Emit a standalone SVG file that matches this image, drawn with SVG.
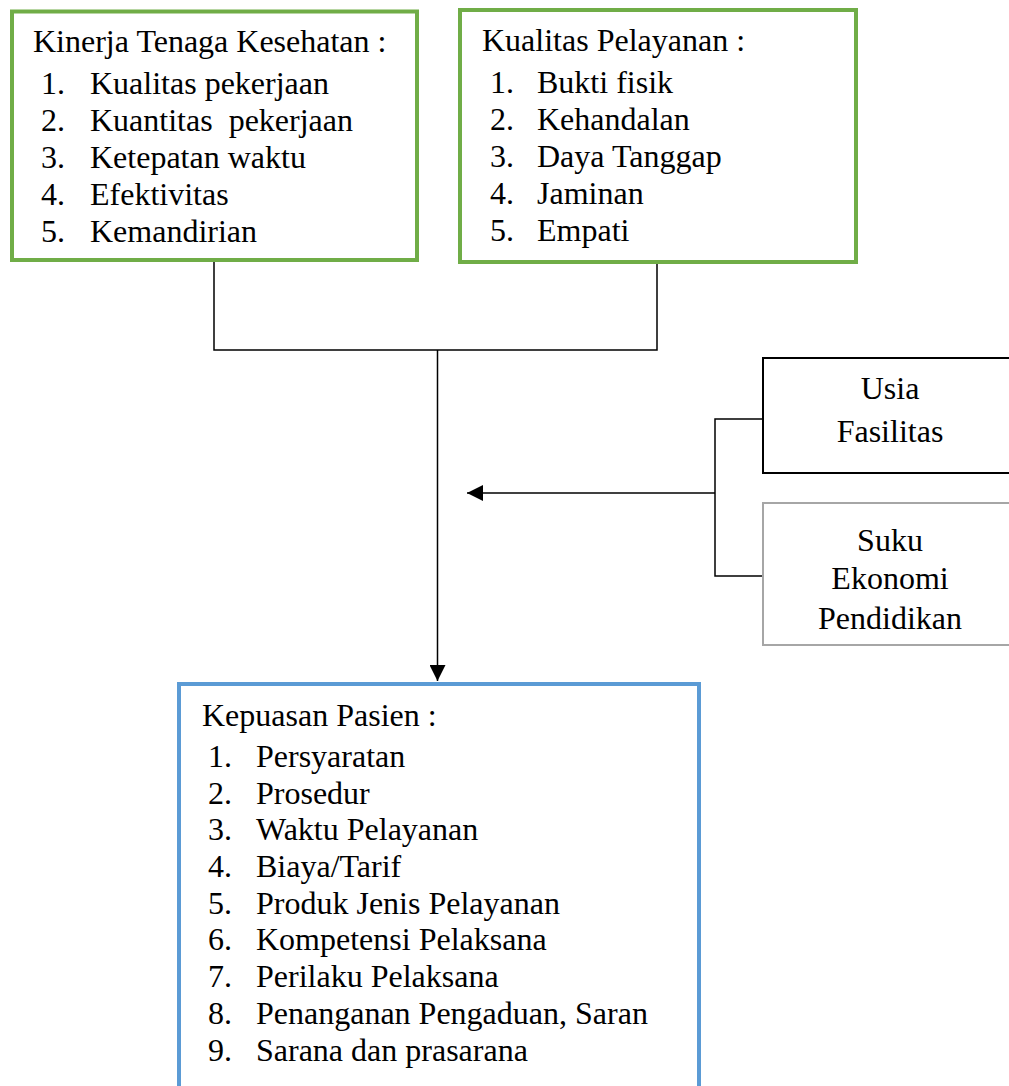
<svg xmlns="http://www.w3.org/2000/svg" width="1009" height="1086" viewBox="0 0 1009 1086">
<defs>
<style>
text{font-family:"Liberation Serif","Times New Roman",serif;font-size:32px;fill:#000}
.c{text-anchor:middle}
.green{fill:#fff;stroke:#70AD47;stroke-width:4}
.blue{fill:#fff;stroke:#5B9BD5;stroke-width:4}
.blk{fill:#fff;stroke:#000;stroke-width:2}
.gry{fill:#fff;stroke:#A6A6A6;stroke-width:2}
.ln{fill:none;stroke:#000;stroke-width:1.5}
</style>
<marker id="arr" markerWidth="16" markerHeight="16" refX="16" refY="8" orient="auto" markerUnits="userSpaceOnUse" viewBox="0 0 16 16">
<path d="M0,0 L16,8 L0,16 Z" fill="#000"/>
</marker>
</defs>
<g id="connectors">
<polyline class="ln" points="214,260 214,350 657,350 657,262"/>
<line class="ln" x1="437.5" y1="350" x2="437.5" y2="681" marker-end="url(#arr)"/>
<polyline class="ln" points="763,419 715,419 715,576 763,576"/>
<line class="ln" x1="715" y1="493" x2="467" y2="493" marker-end="url(#arr)"/>
</g>
<g id="kinerja">
<rect class="green" x="12" y="11.5" width="405" height="248.5"/>
<text x="33" y="52">Kinerja Tenaga Kesehatan :</text>
<text x="41" y="94">1.</text><text x="90" y="94">Kualitas pekerjaan</text>
<text x="41" y="131">2.</text><text x="90" y="131" xml:space="preserve">Kuantitas  pekerjaan</text>
<text x="41" y="168">3.</text><text x="90" y="168">Ketepatan waktu</text>
<text x="41" y="205">4.</text><text x="90" y="205">Efektivitas</text>
<text x="41" y="242">5.</text><text x="90" y="242">Kemandirian</text>
</g>
<g id="kualitas">
<rect class="green" x="460" y="10" width="396" height="252"/>
<text x="482" y="51">Kualitas Pelayanan :</text>
<text x="490" y="93">1.</text><text x="537" y="93">Bukti fisik</text>
<text x="490" y="130">2.</text><text x="537" y="130">Kehandalan</text>
<text x="490" y="167">3.</text><text x="537" y="167">Daya Tanggap</text>
<text x="490" y="204">4.</text><text x="537" y="204">Jaminan</text>
<text x="490" y="241">5.</text><text x="537" y="241">Empati</text>
</g>
<g id="usia">
<rect class="blk" x="763" y="358" width="260" height="115"/>
<text class="c" x="890" y="399">Usia</text>
<text class="c" x="890" y="442">Fasilitas</text>
</g>
<g id="suku">
<rect class="gry" x="763" y="503" width="260" height="142"/>
<text class="c" x="890" y="551">Suku</text>
<text class="c" x="890" y="589">Ekonomi</text>
<text class="c" x="890" y="629">Pendidikan</text>
</g>
<g id="kepuasan">
<rect class="blue" x="179" y="684" width="520" height="420"/>
<text x="202" y="726">Kepuasan Pasien :</text>
<text x="208" y="767">1.</text><text x="256" y="767">Persyaratan</text>
<text x="208" y="804">2.</text><text x="256" y="804">Prosedur</text>
<text x="208" y="840">3.</text><text x="256" y="840">Waktu Pelayanan</text>
<text x="208" y="877">4.</text><text x="256" y="877">Biaya/Tarif</text>
<text x="208" y="914">5.</text><text x="256" y="914">Produk Jenis Pelayanan</text>
<text x="208" y="950">6.</text><text x="256" y="950">Kompetensi Pelaksana</text>
<text x="208" y="987">7.</text><text x="256" y="987">Perilaku Pelaksana</text>
<text x="208" y="1024">8.</text><text x="256" y="1024">Penanganan Pengaduan, Saran</text>
<text x="208" y="1061">9.</text><text x="256" y="1061">Sarana dan prasarana</text>
</g>
</svg>
